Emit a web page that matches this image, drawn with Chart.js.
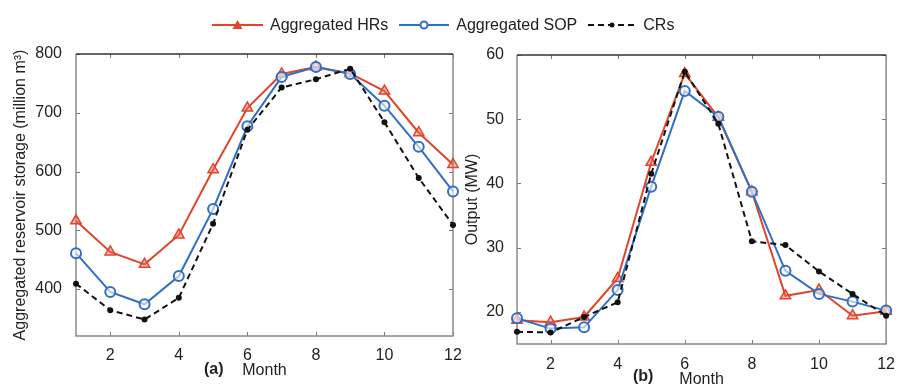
<!DOCTYPE html>
<html>
<head>
<meta charset="utf-8">
<script src="https://cdn.jsdelivr.net/npm/chart.js@4"></script>
<style>
  html, body { margin: 0; padding: 0; background: #fff; overflow: hidden; }
  body { width: 898px; height: 385px; position: relative; font-family: "Liberation Sans", Arial, sans-serif; color: #222; }
  #chartA { position: absolute; left: 0; top: 0; }
  #chartB { position: absolute; left: 460px; top: 0; }
  .legend { position: absolute; top: 14px; left: 212px; height: 22px; display: flex; align-items: center; font-size: 16px; white-space: nowrap; }
  .legend svg { display: block; }
  .legend span { margin: 0 11px 0 7px; }
  .tag { position: absolute; font-weight: bold; font-size: 16px; }
</style>
</head>
<body>
<canvas id="chartA" width="475" height="385"></canvas>
<canvas id="chartB" width="438" height="395"></canvas>

<div class="legend">
  <svg width="51" height="14"><line x1="0" y1="7" x2="51" y2="7" stroke="#e0442a" stroke-width="2"/><polygon points="25.5,2 30.5,11 20.5,11" fill="#e0442a"/></svg>
  <span>Aggregated HRs</span>
  <svg width="50" height="14"><line x1="0" y1="7" x2="50" y2="7" stroke="#2f6fc4" stroke-width="2"/><circle cx="25" cy="7" r="3.5" fill="#fff" stroke="#2f6fc4" stroke-width="2"/></svg>
  <span>Aggregated SOP</span>
  <svg width="48" height="14"><line x1="0" y1="7" x2="48" y2="7" stroke="#111" stroke-width="2" stroke-dasharray="6,4"/><circle cx="24" cy="7" r="2.5" fill="#111"/></svg>
  <span>CRs</span>
</div>
<div class="tag" style="left:204px; top:360px;">(a)</div>
<div class="tag" style="left:633px; top:367px;">(b)</div>

<script>
// --- Data ---
const months = [1, 2, 3, 4, 5, 6, 7, 8, 9, 10, 11, 12];
const monthTicks = [2, 4, 6, 8, 10, 12];
const storageTicks = [400, 500, 600, 700, 800];
const outputTicks = [20, 30, 40, 50, 60];

// (a) aggregated reservoir storage (million m3)
const storageHRs = [516, 463, 442, 492, 603, 708, 766, 778, 767, 737, 666, 612];
const storageSOP = [461, 395, 374, 422, 536, 677, 761, 778, 766, 712, 642, 566];
const storageCRs = [409, 364, 348, 385, 511, 671, 743, 757, 775, 684, 589, 509];

// (b) output (MW)
const outputHRs = [18.7, 18.4, 19.2, 25.2, 43.3, 57.1, 50.3, 38.7, 22.5, 23.4, 19.4, 20.1];
const outputSOP = [19.0, 17.4, 17.6, 23.4, 39.5, 54.4, 50.4, 38.7, 26.4, 22.8, 21.6, 20.2];
const outputCRs = [16.9, 16.8, 19.2, 21.5, 41.5, 57.4, 49.3, 31.0, 30.4, 26.3, 22.8, 19.4];

const FONT = { family: '"Liberation Sans", Arial, sans-serif', size: 16 };
const TEXT = '#222';

// --- Helpers ---
const pts = vals => vals.map((v, i) => ({ x: months[i], y: v }));

function makeSets(hrs, sop, crs) {
    return [
        {
            label: 'Aggregated HRs', data: pts(hrs), order: 3,
            borderColor: '#e0442a', borderWidth: 2,
            pointStyle: 'triangle', pointRadius: 6, pointBorderWidth: 1.5,
            pointBorderColor: '#e0442a', pointBackgroundColor: 'rgba(236,110,90,0.45)'
        },
        {
            label: 'Aggregated SOP', data: pts(sop), order: 2,
            borderColor: '#2f6fc4', borderWidth: 2,
            pointStyle: 'circle', pointRadius: 5, pointBorderWidth: 2,
            pointBorderColor: '#2f6fc4', pointBackgroundColor: 'rgba(255,255,255,0.6)'
        },
        {
            label: 'CRs', data: pts(crs), order: 1,
            borderColor: '#111', borderWidth: 2, borderDash: [6, 4],
            pointStyle: 'circle', pointRadius: 3, pointBorderWidth: 0,
            pointBackgroundColor: '#111'
        }
    ];
}

// box + inward tick marks, matlab style
const framePlugin = {
    id: 'frame',
    beforeDatasetsDraw(chart) {
        const { ctx, chartArea: { left, right, top, bottom }, scales: { x, y } } = chart;
        ctx.save();
        ctx.lineWidth = 1;
        ctx.strokeStyle = '#777';
        ctx.beginPath();
        x.ticks.forEach(t => {
            const px = Math.round(x.getPixelForValue(t.value)) + 0.5;
            ctx.moveTo(px, bottom); ctx.lineTo(px, bottom - 4);
            ctx.moveTo(px, top); ctx.lineTo(px, top + 4);
        });
        y.ticks.forEach(t => {
            const py = Math.round(y.getPixelForValue(t.value)) + 0.5;
            ctx.moveTo(left, py); ctx.lineTo(left + 4, py);
            ctx.moveTo(right, py); ctx.lineTo(right - 4, py);
        });
        ctx.stroke();

        ctx.lineWidth = 1.5;
        ctx.strokeStyle = '#8a8a8a';
        ctx.beginPath();
        ctx.moveTo(left, top); ctx.lineTo(left, bottom); ctx.lineTo(right, bottom); ctx.lineTo(right, top);
        ctx.stroke();
        ctx.strokeStyle = '#333';
        ctx.beginPath();
        ctx.moveTo(left, top); ctx.lineTo(right, top);
        ctx.stroke();
        ctx.restore();
    }
};

function makeChart(id, cfg) {
    return new Chart(document.getElementById(id), {
        type: 'line',
        data: { datasets: makeSets(cfg.hrs, cfg.sop, cfg.crs) },
        plugins: [framePlugin],
        options: {
            responsive: false,
            animation: false,
            layout: { padding: cfg.padding },
            elements: { line: { tension: 0 } },
            datasets: { line: { clip: false } },
            plugins: { legend: { display: false }, tooltip: { enabled: false } },
            scales: {
                x: {
                    type: 'linear', min: 1, max: 12,
                    afterBuildTicks: s => { s.ticks = monthTicks.map(v => ({ value: v })); },
                    afterFit: s => { s.height = cfg.xHeight; },
                    grid: { display: false },
                    border: { display: false },
                    ticks: { font: FONT, color: TEXT, padding: cfg.xPad, maxRotation: 0 },
                    title: { display: true, text: 'Month', font: FONT, color: TEXT, padding: { top: 0, bottom: 0 } }
                },
                y: {
                    type: 'linear', min: cfg.yMin, max: cfg.yMax,
                    afterBuildTicks: s => { s.ticks = cfg.yTicks.map(v => ({ value: v })); },
                    afterFit: s => { s.width = cfg.yWidth; },
                    grid: { display: false },
                    border: { display: false },
                    ticks: { font: FONT, color: TEXT, padding: cfg.yPad },
                    title: { display: true, text: cfg.yTitle, font: FONT, color: TEXT, padding: { top: 0, bottom: 0 } }
                }
            }
        }
    });
}

makeChart('chartA', {
    hrs: storageHRs, sop: storageSOP, crs: storageCRs,
    yMin: 320, yMax: 800, yTicks: storageTicks,
    yTitle: 'Aggregated reservoir storage (million m³)',
    padding: { top: 54, left: 11, right: 22, bottom: 5 },
    xHeight: 44, yWidth: 65, xPad: 2, yPad: 6
});

makeChart('chartB', {
    hrs: outputHRs, sop: outputSOP, crs: outputCRs,
    yMin: 15, yMax: 60, yTicks: outputTicks,
    yTitle: 'Output (MW)',
    padding: { top: 55, left: 3, right: 10, bottom: 6 },
    xHeight: 45, yWidth: 54, xPad: 3, yPad: 5
});
</script>
</body>
</html>
